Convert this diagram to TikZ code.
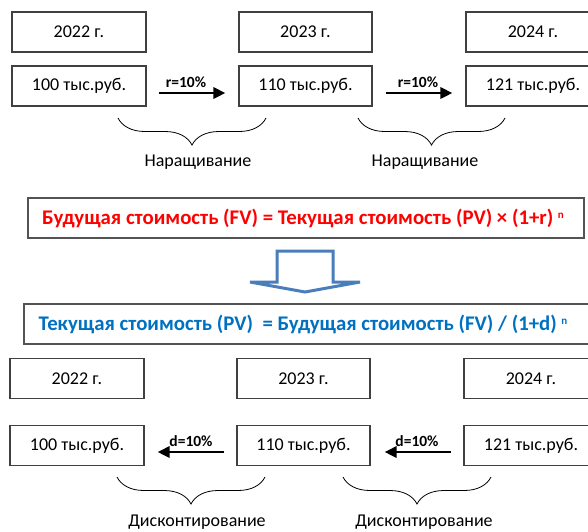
\documentclass[tikz,border=0pt]{standalone}
\usepackage{fontspec}
\setmainfont{Carlito}
\usetikzlibrary{decorations.pathreplacing,arrows.meta}
\definecolor{fred}{HTML}{FF0000}
\definecolor{fblue}{HTML}{0070C0}
\definecolor{arrblue}{HTML}{4A7EBB}
\definecolor{edge}{HTML}{404040}
\tikzset{
  yearbox/.style={draw=edge, line width=1.1pt, minimum width=134pt, minimum height=40pt, inner sep=0pt, font=\fontsize{18}{21}\selectfont},
  formbox/.style={draw=edge!90, line width=1.6pt, inner sep=0pt},
  rate/.style={line width=2.8pt, -{Triangle[length=12pt,width=11pt]}},
  ratelbl/.style={font=\fontsize{15.5}{18}\selectfont\bfseries},
  bracelbl/.style={font=\fontsize{18}{21}\selectfont},
  bracesty/.style={draw=black, line width=0.8pt, decorate, decoration={brace, amplitude=27pt, mirror}},
}
\begin{document}
\begin{tikzpicture}[x=1pt,y=-1pt]
\useasboundingbox (0,0) rectangle (588,531);
\clip (0,0) rectangle (588,531);
% top row
\node[yearbox] (ty1) at (79,32) {2022 г.};
\node[yearbox, minimum width=133pt] (ty2) at (305.5,32) {2023 г.};
\node[yearbox] (ty3) at (533,32) {2024 г.};
\node[yearbox] (tv1) at (79,86) {100 тыс.руб.};
\node[yearbox, minimum width=133pt] (tv2) at (305.5,86) {110 тыс.руб.};
\node[yearbox] (tv3) at (533,86) {121 тыс.руб.};
\draw[rate] ([xshift=12pt,yshift=-7pt]tv1.east) -- ([xshift=-13pt,yshift=-7pt]tv2.west);
\draw[rate] ([xshift=13pt,yshift=-7pt]tv2.east) -- ([xshift=-13pt,yshift=-7pt]tv3.west);
\node[ratelbl] (tr1) at (186,82.5) {r=10\%};
\node[ratelbl] (tr2) at (418,82.5) {r=10\%};
\coordinate (tb1a) at (118,118);
\coordinate (tb1b) at (266,118);
\coordinate (tb2a) at (358,118);
\coordinate (tb2b) at (505,118);
\draw[bracesty] (tb1a) -- (tb1b);
\draw[bracesty] (tb2a) -- (tb2b);
\node[bracelbl] (tl1) at (198,162) {Наращивание};
\node[bracelbl] (tl2) at (425,162) {Наращивание};
% formula boxes
\node[formbox, minimum width=556pt, minimum height=40pt] (fv) at (306,218) {};
\node[font=\fontsize{20.8}{24}\selectfont\bfseries, text=fred] (fvt) at (303,218) {Будущая стоимость (FV) = Текущая стоимость (PV) × (1+r) \raisebox{0.55ex}{\fontsize{11}{12}\selectfont n}};
\node[formbox, minimum width=580pt, minimum height=40pt] (pv) at (314,324) {};
\node[font=\fontsize{20.8}{24}\selectfont\bfseries, text=fblue] (pvt) at (303,324) {Текущая стоимость (PV) \ = Будущая стоимость (FV) / (1+d) \raisebox{0.55ex}{\fontsize{11}{12}\selectfont n}};
% block arrow
\draw[arrblue, line width=3pt, fill=white, line join=miter]
  (277,251) -- (333,251) -- (333,282) -- (360,282) -- (305,292) -- (250,282) -- (277,282) -- cycle;
% bottom row
\node[yearbox] (by1) at (77,378.5) {2022 г.};
\node[yearbox, minimum width=133pt] (by2) at (303.5,378.5) {2023 г.};
\node[yearbox] (by3) at (531,378.5) {2024 г.};
\node[yearbox] (bv1) at (77,445.5) {100 тыс.руб.};
\node[yearbox, minimum width=133pt] (bv2) at (303.5,445.5) {110 тыс.руб.};
\node[yearbox] (bv3) at (531,445.5) {121 тыс.руб.};
\draw[rate] ([xshift=-12pt,yshift=-6.5pt]bv2.west) -- ([xshift=13pt,yshift=-6.5pt]bv1.east);
\draw[rate] ([xshift=-12pt,yshift=-6.5pt]bv3.west) -- ([xshift=14pt,yshift=-6.5pt]bv2.east);
\node[ratelbl] (br1) at (191,441.5) {d=10\%};
\node[ratelbl] (br2) at (417,441.5) {d=10\%};
\coordinate (bb1a) at (117,477);
\coordinate (bb1b) at (265,477);
\coordinate (bb2a) at (343,477);
\coordinate (bb2b) at (491,477);
\draw[bracesty] (bb1a) -- (bb1b);
\draw[bracesty] (bb2a) -- (bb2b);
\node[bracelbl] (bl1) at (197,522) {Дисконтирование};
\node[bracelbl] (bl2) at (424,522) {Дисконтирование};
\end{tikzpicture}
\end{document}
